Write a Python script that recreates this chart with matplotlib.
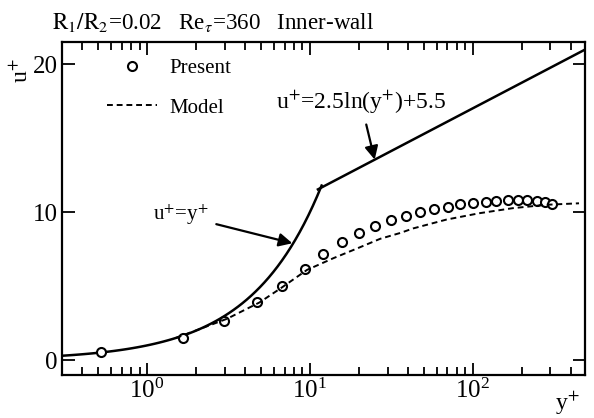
import numpy as np
import matplotlib
matplotlib.use('Agg')
import matplotlib.pyplot as plt
from matplotlib.ticker import LogLocator, LogFormatterMathtext, NullFormatter

plt.rcParams['font.family'] = 'Liberation Serif'
plt.rcParams['mathtext.fontset'] = 'stix'

# Present (DNS) data
present_y = [0.52, 1.65, 2.95, 4.7, 6.7, 9.3, 12.0, 15.7, 20.0, 25.0, 31.4, 38.8, 47.3,
             57.6, 70.3, 83.2, 100.0, 120.0, 140.0, 164.0, 189.0, 217.0, 247.0, 280.0, 309.0]
present_u = [0.55, 1.5, 2.65, 3.9, 5.0, 6.15, 7.2, 8.0, 8.6, 9.05, 9.45, 9.73, 10.0,
             10.2, 10.34, 10.52, 10.65, 10.68, 10.74, 10.8, 10.8, 10.8, 10.74, 10.66, 10.55]

# model curve
model_y = [1.5, 2.1, 3.1, 4.9, 6.7, 9.6, 14.0, 20.0, 27.0, 36.0, 43.0, 69.0, 110.0, 176.0, 284.0, 450.0]
model_u = [1.5, 2.1, 2.8, 3.9, 4.9, 6.1, 6.9, 7.6, 8.2, 8.6, 8.9, 9.5, 9.93, 10.27, 10.5, 10.6]

# wall laws
visc_y = np.logspace(np.log10(0.3), np.log10(11.8), 60)
log_y = np.logspace(np.log10(11.2), np.log10(490), 60)

fig = plt.figure(figsize=(5.94, 4.18), dpi=100)
ax = fig.add_axes([0.1044, 0.1029, 0.8805, 0.7967])

ax.plot(visc_y, visc_y, 'k-', lw=1.8)
ax.plot(log_y, 2.5 * np.log(log_y) + 5.5, 'k-', lw=1.8)
ax.plot(present_y, present_u, 'o', mfc='white', mec='k', ms=6.5, mew=1.5, label='Present')
ax.plot(model_y, model_u, 'k--', lw=1.4, dashes=(3, 2), label='Model')

ax.set_xscale('log')
ax.set_xlim(0.3, 490)
ax.set_ylim(-1.0, 21.5)
ax.set_yticks([0, 10, 20])
ax.xaxis.set_major_locator(LogLocator(base=10))
ax.xaxis.set_major_formatter(LogFormatterMathtext())
ax.xaxis.set_minor_locator(LogLocator(base=10, subs=np.arange(2, 10)))
ax.xaxis.set_minor_formatter(NullFormatter())
ax.tick_params(which='both', direction='in', top=True, right=True, width=1.3, labelsize=18)
ax.tick_params(which='major', length=9, pad=3)
ax.tick_params(which='minor', length=6)
for s in ax.spines.values():
    s.set_linewidth(1.6)

ax.annotate('u$^{+}$=y$^{+}$', xy=(7.8, 7.9), xytext=(1.6, 9.8), fontsize=15,
            ha='center', va='center',
            arrowprops=dict(arrowstyle='-|>', color='k', lw=1.6, mutation_scale=20, shrinkA=4, shrinkB=0))
ax.annotate('u$^{+}$=2.5ln(y$^{+}$)+5.5', xy=(25, 13.55), xytext=(20.6, 17.4), fontsize=17,
            ha='center', va='center',
            arrowprops=dict(arrowstyle='-|>', color='k', lw=1.6, mutation_scale=20, shrinkA=4, shrinkB=0))

ax.legend(loc='upper left', bbox_to_anchor=(0.086, 0.95), frameon=False, fontsize=15,
          borderpad=0, borderaxespad=0, handlelength=2.4, handletextpad=0.6, labelspacing=0.95)

fig.text(0.088, 0.945, r'$\mathrm{R_1/R_2}$=0.02   Re$_\tau$=360   Inner-wall', fontsize=16.6, va='center')
fig.text(0.036, 0.83, 'u$^{+}$', fontsize=17, rotation=90, ha='center', va='center')
fig.text(0.955, 0.035, 'y$^{+}$', fontsize=17, ha='center', va='center')

fig.savefig('out.png', dpi=100)
